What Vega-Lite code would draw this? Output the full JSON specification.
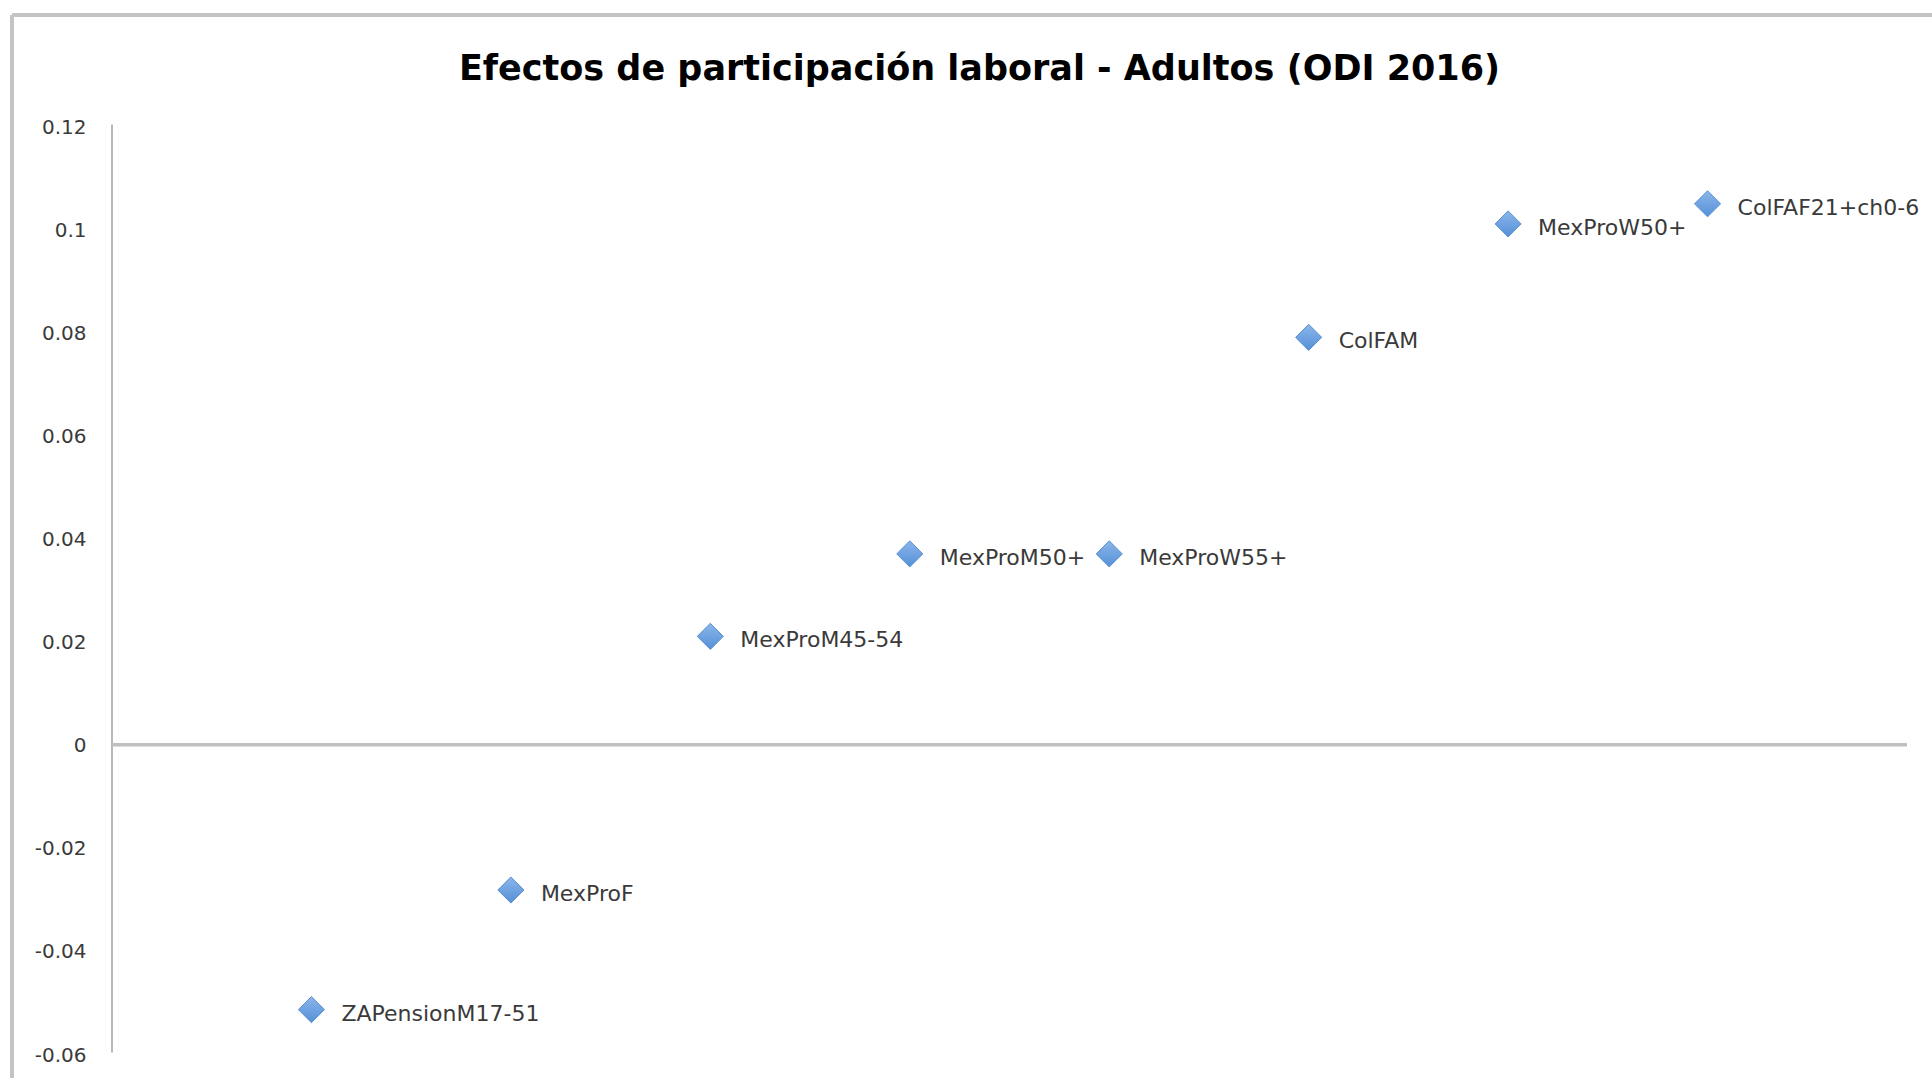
{
  "$schema": "https://vega.github.io/schema/vega-lite/v6.json",
  "width": 1795,
  "height": 928,
  "autosize": "none",
  "padding": {"left": 112, "top": 127, "right": 25, "bottom": 23},
  "background": "white",
  "title": {
    "text": "Efectos de participación laboral - Adultos (ODI 2016)",
    "font": "DejaVu Sans",
    "fontWeight": "bold",
    "fontSize": 35,
    "color": "#000000",
    "anchor": "middle",
    "frame": "group",
    "offset": -74,
    "dx": -30
  },
  "config": {
    "view": {"stroke": null},
    "axisY": {
      "format": "~g",
      "labelExpr": "replace(datum.label, '\u2212', '-')",
      "domain": false,
      "ticks": false,
      "grid": false,
      "labelFont": "DejaVu Sans",
      "labelFontSize": 20,
      "labelColor": "#3a3a3a",
      "labelPadding": 26,
      "labelOverlap": false,
      "title": null
    }
  },
  "layer": [
    {
      "data": {"values": [
        {"pos": 1, "label": "ZAPensionM17-51", "value": -0.0512},
        {"pos": 2, "label": "MexProF", "value": -0.028},
        {"pos": 3, "label": "MexProM45-54", "value": 0.0212},
        {"pos": 4, "label": "MexProM50+", "value": 0.0372},
        {"pos": 5, "label": "MexProW55+", "value": 0.0372},
        {"pos": 6, "label": "ColFAM", "value": 0.0792},
        {"pos": 7, "label": "MexProW50+", "value": 0.1012},
        {"pos": 8, "label": "ColFAF21+ch0-6", "value": 0.1051}
      ]},
      "mark": {"type": "point", "shape": "diamond", "filled": true, "size": 680, "opacity": 1,
        "fill": {"gradient": "linear", "x1": 0, "y1": 0, "x2": 0, "y2": 1, "stops": [{"offset": 0, "color": "#8bb6ea"}, {"offset": 1, "color": "#5590d8"}]},
        "stroke": "#5a8fd0", "strokeWidth": 1},
      "encoding": {
        "x": {"field": "pos", "type": "quantitative", "scale": {"domain": [0, 9], "nice": false, "zero": false}, "axis": null},
        "y": {"field": "value", "type": "quantitative", "title": null, "scale": {"domain": [-0.06, 0.12], "nice": false, "zero": false},
          "axis": {"values": [-0.06, -0.04, -0.02, 0, 0.02, 0.04, 0.06, 0.08, 0.1, 0.12]}}
      }
    },
    {
      "data": {"values": [
        {"pos": 1, "label": "ZAPensionM17-51", "value": -0.0512},
        {"pos": 2, "label": "MexProF", "value": -0.028},
        {"pos": 3, "label": "MexProM45-54", "value": 0.0212},
        {"pos": 4, "label": "MexProM50+", "value": 0.0372},
        {"pos": 5, "label": "MexProW55+", "value": 0.0372},
        {"pos": 6, "label": "ColFAM", "value": 0.0792},
        {"pos": 7, "label": "MexProW50+", "value": 0.1012},
        {"pos": 8, "label": "ColFAF21+ch0-6", "value": 0.1051}
      ]},
      "mark": {"type": "text", "align": "left", "baseline": "middle", "dx": 30, "dy": 4, "font": "DejaVu Sans", "fontSize": 22, "color": "#3a3a3a"},
      "encoding": {
        "x": {"field": "pos", "type": "quantitative", "axis": null},
        "y": {"field": "value", "type": "quantitative", "title": null},
        "text": {"field": "label"}
      }
    },
    {
      "data": {"values": [
        {"x": -0.5014, "y": -0.0645, "x2": -0.5014, "y2": 0.1417},
        {"x": -0.5014, "y": 0.1417, "x2": 9.1254, "y2": 0.1417}
      ]},
      "mark": {"type": "rule", "color": "#c4c4c4", "strokeWidth": 4},
      "encoding": {
        "x": {"field": "x", "type": "quantitative", "axis": null},
        "x2": {"field": "x2"},
        "y": {"field": "y", "type": "quantitative", "title": null},
        "y2": {"field": "y2"}
      }
    },
    {
      "data": {"values": [{"x": 0, "y": -0.0595, "y2": 0.1205}]},
      "mark": {"type": "rule", "color": "#b8b8b8", "strokeWidth": 2},
      "encoding": {
        "x": {"field": "x", "type": "quantitative", "axis": null},
        "y": {"field": "y", "type": "quantitative", "title": null},
        "y2": {"field": "y2"}
      }
    },
    {
      "data": {"values": [{"x": 0, "x2": 9, "y": 0.0002}]},
      "mark": {"type": "rule", "color": "#c0c0c0", "strokeWidth": 3.5},
      "encoding": {
        "x": {"field": "x", "type": "quantitative", "axis": null},
        "x2": {"field": "x2"},
        "y": {"field": "y", "type": "quantitative", "title": null}
      }
    }
  ]
}
